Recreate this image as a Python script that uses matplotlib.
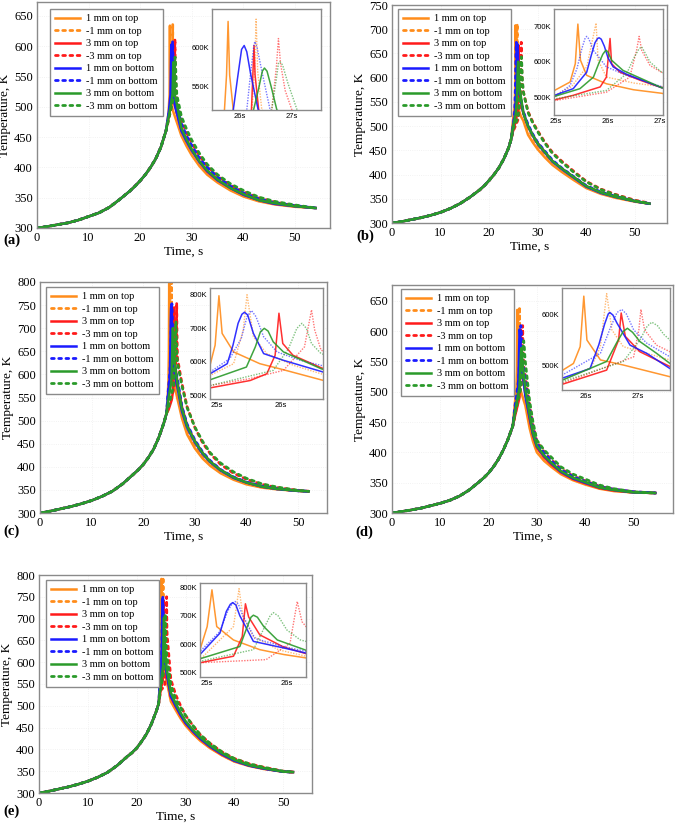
import matplotlib
matplotlib.use("Agg")
import matplotlib.pyplot as plt
from matplotlib.ticker import FixedLocator, FixedFormatter

LABELS = ['1 mm on top', '-1 mm on top', '3 mm on top', '-3 mm on top',
          '1 mm on bottom', '-1 mm on bottom', '3 mm on bottom', '-3 mm on bottom']
COLORS = ['#FF8C1A', '#FF8C1A', '#FF1A1A', '#FF1A1A',
          '#1A1AFF', '#1A1AFF', '#2A9A2A', '#2A9A2A']
DOTTED = [False, True, False, True, False, True, False, True]

# ---------------- panel (a) ----------------
A_HEAT_T = [0, 2, 4, 6, 8, 10, 12, 14, 16, 18, 19, 20, 21, 22, 23, 24, 25]
A_HEAT_K = [300, 302.5, 305.5, 308.5, 313, 319, 325, 334, 347, 361, 369, 378, 388, 400, 414, 433, 460]
A_NEAR_T = [[25.5, 25.70, 25.74, 25.77, 25.80, 25.87, 26.3],
            [25.8, 26.23, 26.28, 26.31, 26.34, 26.42, 26.8],
            [25.8, 26.22, 26.25, 26.27, 26.29, 26.36, 26.8],
            [26.2, 26.61, 26.70, 26.74, 26.78, 26.87, 27.0, 27.3],
            [25.6, 25.87, 25.95, 26.03, 26.08, 26.13, 26.2, 26.35, 26.8],
            [25.8, 26.13, 26.2, 26.27, 26.29, 26.33, 26.42, 26.58, 27.0],
            [25.9, 26.26, 26.36, 26.43, 26.47, 26.52, 26.6, 26.71, 27.1],
            [26.2, 26.61, 26.70, 26.74, 26.77, 26.82, 26.92, 27.1, 27.4]]
A_NEAR_K = [[490, 520, 565, 634, 565, 520, 495],
            [495, 520, 570, 637, 570, 520, 500],
            [495, 520, 570, 603, 565, 520, 500],
            [505, 520, 575, 612, 580, 545, 520, 505],
            [495, 520, 560, 598, 603, 595, 568, 520, 500],
            [500, 520, 565, 605, 608, 600, 570, 520, 505],
            [500, 520, 548, 570, 574, 570, 550, 520, 505],
            [505, 520, 560, 580, 582, 578, 555, 520, 508]]
A_COOL_T = [28, 29, 30, 31.5, 33, 35, 37.5, 40, 43, 46, 50, 54]
A_COOL_K = [[452, 435, 420, 402, 388, 375, 362, 352, 344, 339, 335, 333],
            [460, 443, 428, 409, 393, 379, 366, 355, 346, 340, 336, 333],
            [462, 444, 428, 409, 393, 379, 366, 355, 346, 340, 336, 333],
            [478, 457, 440, 419, 402, 386, 371, 360, 350, 343, 337, 333],
            [460, 443, 428, 409, 394, 379, 366, 355, 346, 340, 336, 333],
            [472, 452, 436, 415, 400, 384, 369, 358, 348, 342, 337, 333],
            [465, 446, 430, 410, 395, 380, 366, 356, 346, 341, 336, 333],
            [484, 463, 445, 423, 405, 388, 373, 362, 351, 344, 338, 333]]

# ---------------- panel (b) ----------------
B_HEAT_T = [0, 2, 4, 6, 8, 10, 12, 14, 16, 18, 19, 20, 21, 22, 23, 24, 24.5]
B_HEAT_K = [300, 303, 307, 311, 316, 322, 330, 340, 353, 368, 377, 388, 400, 414, 432, 455, 472]
B_NEAR_T = [[24.97, 25.27, 25.37, 25.42, 25.47, 25.59, 25.97, 26.49, 27.03],
            [24.97, 25.3, 25.59, 25.70, 25.77, 25.81, 25.97, 26.5, 27.03],
            [24.97, 25.33, 25.85, 25.97, 26.04, 26.07, 26.23, 26.62, 27.03],
            [24.97, 25.97, 26.42, 26.55, 26.60, 26.65, 26.81, 27.03],
            [24.97, 25.33, 25.59, 25.68, 25.75, 25.80, 25.83, 25.87, 25.93, 26.00, 26.10, 26.36, 27.03],
            [24.97, 25.27, 25.40, 25.50, 25.56, 25.59, 25.63, 25.72, 25.97, 26.36, 27.03],
            [24.97, 25.46, 25.72, 25.82, 25.90, 25.95, 25.97, 26.00, 26.07, 26.29, 27.03],
            [24.97, 25.97, 26.36, 26.50, 26.60, 26.65, 26.70, 26.81, 27.03]]
B_NEAR_K = [[519, 543, 595, 708, 605, 562, 538, 521, 511],
            [505, 530, 586, 662, 711, 605, 557, 540, 530],
            [492, 505, 529, 557, 667, 595, 571, 548, 527],
            [490, 514, 557, 633, 673, 633, 590, 571],
            [505, 524, 571, 620, 655, 667, 669, 665, 645, 612, 586, 565, 527],
            [500, 533, 580, 640, 668, 673, 666, 633, 586, 562, 530],
            [502, 524, 557, 595, 622, 632, 633, 628, 605, 576, 527],
            [495, 519, 567, 612, 638, 643, 630, 600, 571]]
B_COOL_T = [28, 29, 30, 31.5, 33, 35, 37.5, 40, 43, 46, 50, 53]
B_COOL_K = [[482, 466, 452, 435, 420, 405, 388, 372, 360, 352, 344, 340],
            [495, 476, 460, 442, 426, 410, 392, 375, 362, 353, 345, 340],
            [500, 481, 465, 446, 428, 412, 394, 376, 363, 354, 345, 340],
            [530, 508, 490, 466, 446, 427, 406, 386, 370, 359, 347, 341],
            [500, 480, 463, 445, 427, 411, 393, 375, 362, 354, 345, 340],
            [503, 483, 466, 448, 430, 413, 395, 377, 364, 355, 345, 340],
            [500, 481, 464, 446, 428, 412, 394, 376, 363, 354, 345, 340],
            [528, 506, 488, 464, 444, 425, 404, 385, 369, 358, 346, 340]]

# ---------------- panel (c) ----------------
C_HEAT_T = [0, 2, 4, 6, 8, 10, 12, 14, 16, 18, 19, 20, 21, 22, 23, 24, 24.5]
C_HEAT_K = [300, 304, 309, 314, 320, 327, 336, 347, 363, 383, 393, 405, 420, 438, 463, 495, 515]
C_NEAR_T = [[24.7, 24.89, 24.97, 25.03, 25.08, 25.26, 25.67, 26.04, 26.63],
            [24.89, 25.26, 25.41, 25.47, 25.57, 25.78, 26.2, 26.63],
            [24.89, 25.52, 25.78, 25.91, 25.97, 26.03, 26.19, 26.63],
            [24.89, 25.5, 26.04, 26.37, 26.48, 26.53, 26.63],
            [24.89, 25.16, 25.25, 25.33, 25.39, 25.43, 25.48, 25.57, 25.73, 26.04, 26.63],
            [24.89, 25.2, 25.38, 25.47, 25.54, 25.61, 25.73, 25.94, 26.3, 26.63],
            [24.89, 25.46, 25.60, 25.68, 25.74, 25.80, 25.88, 26.04, 26.63],
            [24.89, 25.88, 26.12, 26.25, 26.33, 26.40, 26.48, 26.63]]
C_NEAR_K = [[540, 590, 650, 797, 685, 630, 595, 577, 547],
            [560, 595, 695, 800, 675, 625, 590, 565],
            [523, 545, 565, 620, 745, 655, 620, 583],
            [530, 550, 575, 645, 755, 695, 635],
            [565, 595, 650, 715, 742, 748, 740, 685, 625, 605, 572],
            [570, 610, 670, 735, 753, 735, 675, 630, 605, 590],
            [547, 585, 645, 690, 700, 692, 660, 630, 580],
            [530, 575, 640, 700, 715, 700, 655, 625]]
C_COOL_T = [27.5, 28.5, 30, 31.5, 33, 35, 37.5, 40, 43, 46, 50, 52]
C_COOL_K = [[505, 470, 440, 418, 402, 386, 372, 362, 355, 351, 348, 347],
            [515, 478, 447, 423, 406, 389, 374, 364, 356, 352, 348, 347],
            [530, 490, 456, 430, 411, 393, 377, 366, 357, 352, 348, 347],
            [580, 530, 485, 452, 428, 405, 386, 373, 362, 355, 349, 347],
            [520, 485, 453, 428, 410, 392, 376, 366, 357, 352, 348, 347],
            [530, 492, 458, 432, 413, 394, 378, 367, 358, 352, 348, 347],
            [525, 488, 455, 430, 411, 393, 377, 366, 357, 352, 348, 347],
            [575, 528, 486, 455, 430, 408, 389, 375, 363, 356, 349, 347]]

# ---------------- panel (d) ----------------
D_HEAT_T = [0, 2, 4, 6, 8, 10, 12, 14, 16, 18, 19, 20, 21, 22, 23, 24, 25]
D_HEAT_K = [300, 302.5, 305, 308, 312, 316, 321, 328, 338, 351, 358, 366, 376, 388, 403, 421, 443]
D_NEAR_T = [[25.54, 25.76, 25.89, 25.96, 26.02, 26.28, 26.72, 27.62],
            [25.54, 26.1, 26.28, 26.40, 26.5, 26.72, 27.62],
            [25.54, 26.4, 26.63, 26.68, 26.76, 27.04, 27.62],
            [25.54, 26.92, 27.02, 27.06, 27.13, 27.36, 27.62],
            [25.54, 26.08, 26.25, 26.36, 26.43, 26.46, 26.52, 26.6, 26.85, 27.17, 27.62],
            [25.54, 26.28, 26.48, 26.6, 26.69, 26.78, 26.92, 27.17, 27.62],
            [25.54, 26.4, 26.6, 26.72, 26.8, 26.9, 27.04, 27.36, 27.62],
            [25.54, 26.72, 27.04, 27.18, 27.27, 27.38, 27.5, 27.62]]
D_NEAR_K = [[489, 503, 536, 635, 549, 510, 500, 477],
            [470, 495, 536, 640, 569, 536, 510],
            [462, 490, 549, 602, 556, 526, 497],
            [464, 516, 569, 609, 569, 539, 526],
            [474, 493, 540, 580, 600, 603, 598, 582, 539, 523, 493],
            [480, 523, 575, 603, 609, 600, 569, 543, 516],
            [470, 507, 545, 566, 572, 564, 546, 523, 503],
            [467, 507, 549, 576, 584, 577, 560, 549]]
D_COOL_T = [28.5, 29.2, 30, 31.5, 33, 35, 37.5, 40, 43, 46, 50, 54.5]
D_COOL_K = [[440, 418, 400, 386, 376, 364, 354, 347, 340, 336, 334, 333],
            [455, 428, 408, 392, 380, 367, 356, 349, 341, 337, 334, 333],
            [455, 428, 408, 392, 380, 367, 356, 349, 341, 337, 334, 333],
            [478, 445, 418, 401, 388, 373, 361, 353, 344, 339, 335, 333],
            [458, 430, 410, 394, 382, 368, 357, 350, 342, 338, 334, 333],
            [472, 440, 415, 399, 386, 371, 360, 352, 343, 339, 335, 333],
            [462, 432, 411, 395, 383, 369, 358, 351, 342, 338, 334, 333],
            [485, 450, 420, 404, 392, 376, 364, 356, 346, 340, 335, 333]]

# ---------------- panel (e) ----------------
E_HEAT_T = [0, 2, 4, 6, 8, 10, 12, 14, 16, 18, 19, 20, 21, 22, 23, 24, 24.5]
E_HEAT_K = [300, 304, 309, 314, 320, 327, 336, 347, 363, 383, 392, 403, 418, 435, 458, 487, 505]
E_NEAR_T = [[24.91, 25.0, 25.06, 25.12, 25.33, 25.66, 25.96, 26.24],
            [24.91, 25.33, 25.4, 25.45, 25.58, 25.9, 26.24],
            [24.91, 25.33, 25.44, 25.48, 25.52, 25.66, 25.96, 26.24],
            [24.91, 25.74, 26.04, 26.13, 26.19, 26.24],
            [24.91, 25.16, 25.24, 25.29, 25.32, 25.36, 25.41, 25.58, 25.96, 26.24],
            [24.91, 25.16, 25.26, 25.32, 25.35, 25.39, 25.44, 25.6, 25.96, 26.24],
            [24.91, 25.41, 25.50, 25.55, 25.58, 25.63, 25.71, 25.88, 26.24],
            [24.91, 25.58, 25.72, 25.79, 25.83, 25.89, 26.0, 26.17, 26.24]]
E_NEAR_K = [[581, 662, 791, 662, 615, 581, 564, 552],
            [546, 662, 795, 696, 627, 580, 558],
            [535, 558, 627, 742, 696, 633, 590, 567],
            [535, 546, 604, 750, 679, 662],
            [564, 639, 715, 740, 746, 738, 700, 610, 587, 569],
            [575, 645, 718, 745, 750, 742, 705, 620, 592, 575],
            [549, 592, 660, 695, 702, 695, 662, 615, 579],
            [540, 581, 660, 700, 711, 700, 650, 615, 610]]
E_COOL_T = [27, 28, 29, 30, 31.5, 33, 35, 37.5, 40, 43, 46, 50, 52]
E_COOL_K = [[510, 490, 471, 455, 436, 420, 403, 386, 372, 362, 355, 349, 348],
            [515, 495, 475, 458, 439, 422, 405, 387, 373, 363, 356, 349, 348],
            [520, 498, 478, 460, 441, 424, 406, 388, 374, 363, 356, 349, 348],
            [560, 525, 500, 478, 455, 434, 414, 394, 379, 367, 359, 350, 348],
            [522, 500, 479, 461, 442, 425, 407, 389, 374, 363, 356, 349, 348],
            [527, 503, 482, 464, 444, 427, 408, 390, 375, 364, 357, 349, 348],
            [530, 505, 484, 465, 445, 428, 409, 391, 376, 364, 357, 349, 348],
            [548, 515, 496, 478, 455, 434, 414, 394, 379, 367, 359, 350, 348]]

# ---------------- axis settings ----------------
MAIN_XLIM = [56.8, 56.6, 55.6, 58.2, 55.9]
MAIN_YLIM = [(300, 673), (300, 750), (300, 800), (300, 676), (300, 800)]
MAIN_YTICKS = [list(range(300, 651, 50)), list(range(300, 751, 50)),
               list(range(300, 801, 50)), list(range(300, 651, 50)),
               list(range(300, 801, 50))]
INS_XLIM = [(25.46, 27.56), (24.96, 27.06), (24.89, 26.66), (25.54, 27.62), (24.91, 26.24)]
INS_YLIM = [(520, 650), (449, 751), (490, 820), (451, 651), (485, 815)]
INS_XTICKS = [[26, 27], [25, 26, 27], [25, 26], [26, 27], [25, 26]]
INS_YTICKS = [[550, 600], [500, 600, 700], [500, 600, 700, 800], [500, 600], [500, 600, 700, 800]]
PANEL_NAMES = ['(a)', '(b)', '(c)', '(d)', '(e)']

# pixel boxes (x0, y0, x1, y1), top-left origin
MAIN_BOX = [(37, 2, 330, 228), (392, 5, 667, 223), (40, 282, 327, 513),
            (392, 285, 673, 513), (39, 575, 312, 793)]
INS_BOX = [(212, 9, 321, 110), (554, 9, 663, 115), (210, 288, 323, 399),
           (562, 288, 670, 390), (200, 583, 306, 677)]
LEG_BOX = [(50, 9), (398, 9), (46, 287), (401, 289), (46, 580)]
LETTER_POS = [(3, 244), (356, 240), (3, 535), (355, 536), (3, 815)]

PANELS = [(A_HEAT_T, A_HEAT_K, A_NEAR_T, A_NEAR_K, A_COOL_T, A_COOL_K),
          (B_HEAT_T, B_HEAT_K, B_NEAR_T, B_NEAR_K, B_COOL_T, B_COOL_K),
          (C_HEAT_T, C_HEAT_K, C_NEAR_T, C_NEAR_K, C_COOL_T, C_COOL_K),
          (D_HEAT_T, D_HEAT_K, D_NEAR_T, D_NEAR_K, D_COOL_T, D_COOL_K),
          (E_HEAT_T, E_HEAT_K, E_NEAR_T, E_NEAR_K, E_COOL_T, E_COOL_K)]

W, H = 685, 823
fig = plt.figure(figsize=(W / 100, H / 100), dpi=100)
SERIF = ['Liberation Serif', 'DejaVu Serif']
SANS = ['Liberation Sans', 'DejaVu Sans']
FRAME = '#8a8a8a'


def box(b):
    x0, y0, x1, y1 = b
    return [x0 / W, 1 - y1 / H, (x1 - x0) / W, (y1 - y0) / H]


for p, (ht, hk, nt, nk, ct, ck) in enumerate(PANELS):
    ax = fig.add_axes(box(MAIN_BOX[p]))
    ins = fig.add_axes(box(INS_BOX[p]))
    for i in range(8):
        t = ht + nt[i] + ct
        k = hk + nk[i] + ck[i]
        if DOTTED[i]:
            ax.plot(t, k, color=COLORS[i], lw=2.0, ls=(0, (1, 1.6)),
                    dash_capstyle='round', label=LABELS[i])
            ins.plot(t, k, color=COLORS[i], lw=1.0, ls=(0, (1, 1)), alpha=0.6)
        else:
            ax.plot(t, k, color=COLORS[i], lw=1.8, label=LABELS[i])
            ins.plot(t, k, color=COLORS[i], lw=1.1, alpha=0.9)

    ax.set_xlim(0, MAIN_XLIM[p])
    ax.set_ylim(*MAIN_YLIM[p])
    ax.set_xticks([0, 10, 20, 30, 40, 50])
    ax.set_yticks(MAIN_YTICKS[p])
    ax.grid(True, color='#eeeeee', ls=':', lw=0.6)
    ax.tick_params(direction='in', length=0, labelsize=9, pad=3)
    for lab in ax.get_xticklabels() + ax.get_yticklabels():
        lab.set_family(SERIF)
    for s in ax.spines.values():
        s.set_color(FRAME)
        s.set_linewidth(1.0)
    ax.set_xlabel('Time, s', family=SERIF, fontsize=9.5, labelpad=1)
    ax.set_ylabel('Temperature, K', family=SERIF, fontsize=9.5, labelpad=2)
    lx0, ly0 = LEG_BOX[p]
    mx0, my0, mx1, my1 = MAIN_BOX[p]
    anchor = ((lx0 - mx0) / (mx1 - mx0), 1 - (ly0 - my0) / (my1 - my0))
    leg = ax.legend(loc='upper left', bbox_to_anchor=anchor,
                    prop={'family': SERIF, 'size': 7.4}, frameon=True,
                    fancybox=False, edgecolor=FRAME, framealpha=1,
                    handlelength=2.4, handletextpad=0.6, labelspacing=0.32,
                    borderpad=0.5, borderaxespad=0.0)
    leg.get_frame().set_linewidth(1.0)

    ins.set_xlim(*INS_XLIM[p])
    ins.set_ylim(*INS_YLIM[p])
    ins.xaxis.set_major_locator(FixedLocator(INS_XTICKS[p]))
    ins.xaxis.set_major_formatter(FixedFormatter(['%ds' % v for v in INS_XTICKS[p]]))
    ins.yaxis.set_major_locator(FixedLocator(INS_YTICKS[p]))
    ins.yaxis.set_major_formatter(FixedFormatter(['%dK' % v for v in INS_YTICKS[p]]))
    ins.tick_params(length=0, labelsize=5.5, pad=2)
    for lab in ins.get_xticklabels() + ins.get_yticklabels():
        lab.set_family(SANS)
    for s in ins.spines.values():
        s.set_color(FRAME)
        s.set_linewidth(1.0)
    ins.set_facecolor('white')

    lx, ly = LETTER_POS[p]
    fig.text(lx / W, 1 - ly / H, PANEL_NAMES[p], family=SERIF, fontsize=10.5,
             fontweight='bold', ha='left', va='baseline')

fig.savefig('out.png', dpi=100)
